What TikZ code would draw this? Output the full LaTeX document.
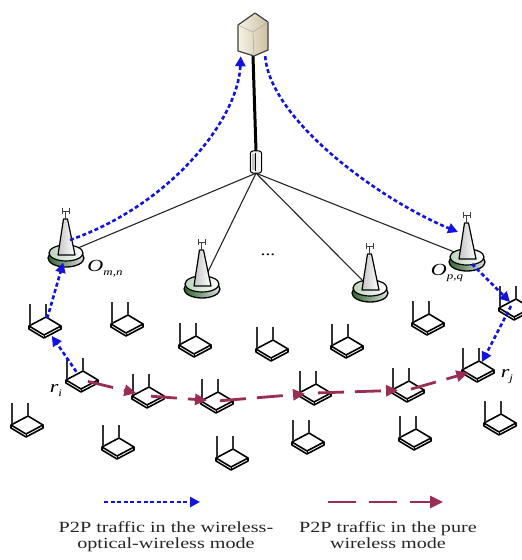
\documentclass[tikz,border=0pt]{standalone}
\usepackage{fontspec}
\setmainfont{Liberation Serif}
\usepackage{graphicx}
\usetikzlibrary{arrows.meta,calc}

\definecolor{owblue}{RGB}{18,18,225}
\definecolor{pwred}{RGB}{155,45,85}
\definecolor{bsgreen}{RGB}{60,130,60}
\definecolor{srvcream}{RGB}{246,242,228}
\definecolor{srvtan}{RGB}{205,192,160}

\newcommand{\wide}[1]{\scalebox{1.3}[1]{#1}}

\tikzset{
  dev/.style={inner sep=0pt, minimum width=30pt, minimum height=18pt},
  bsdev/.style={inner sep=0pt, minimum width=34pt, minimum height=18pt},
  fiber/.style={line width=1.1pt, black!85},
  trunk/.style={line width=3pt, black},
  owpath/.style={owblue, line width=2.6pt, dash pattern=on 4pt off 2.6pt,
    -{Triangle[length=10pt,width=10pt]}},
  pwpath/.style={pwred, line width=2.8pt, dash pattern=on 26pt off 11pt,
    -{Triangle[length=12pt,width=11pt]}},
  lbl/.style={inner sep=0pt, font=\fontsize{17}{17}\selectfont\itshape},
  legendtext/.style={inner sep=0pt, align=center, text=black!85,
    font=\fontsize{15.5}{16.5}\selectfont},
  router/.pic={
    \filldraw[fill=white, line width=1.6pt, line join=round]
      (-16,0) -- (-16,3) -- (-1,12) -- (16,3) -- (16,0) -- (1,-9) -- cycle;
    \draw[line width=1.6pt, line join=round] (-16,0) -- (-1,9) -- (16,0);
    \draw[line width=1pt] (-1,9) -- (-1,12);
    \draw[line width=1.1pt, black!80] (-15,-1) -- (-15,-22) (1,-9) -- (1,-22);
  },
  bstation/.pic={
    \shadedraw[line width=1.3pt, draw=black, left color=bsgreen!80!black, right color=gray!25]
      (0,5) ellipse [x radius=18pt, y radius=9pt];
    \shadedraw[line width=1.2pt, draw=black, left color=bsgreen!35, right color=white]
      (0,0) ellipse [x radius=17pt, y radius=8pt];
    \shadedraw[line width=1.2pt, draw=black, left color=gray!45, right color=white, line join=round]
      (-8,2) -- (-2.5,-34) -- (1.5,-34) -- (9,2) -- cycle;
    \draw[line width=1pt, gray!50!black] (-0.5,-34) -- (-0.5,-42);
    \draw[line width=0.8pt, gray!50!black] (-4,-45) -- (-4,-39) (3,-45) -- (3,-39) (-4,-42) -- (3,-42);
  },
}

\begin{document}
\begin{tikzpicture}[x=1pt, y=-1pt]
  \useasboundingbox (0,0) rectangle (522,560);
  \fill[white] (0,0) rectangle (522,560);

  % central office and splitter
  \node[inner sep=0pt, minimum width=30pt, minimum height=44pt] (srv) at (253,34) {};
  \node[inner sep=0pt, minimum width=11pt, minimum height=22pt] (spl) at (256,162) {};

  % base stations
  \node[bsdev] (bs1) at (66,253) {};
  \node[bsdev] (bs2) at (202,284) {};
  \node[bsdev] (bs3) at (370,288) {};
  \node[bsdev] (bs4) at (467,257) {};

  % wireless routers
  \node[dev] (ra)  at (45,326) {};
  \node[dev] (rb1) at (127,324) {};
  \node[dev] (rb2) at (195,345) {};
  \node[dev] (rb3) at (272,349) {};
  \node[dev] (rb4) at (347,346) {};
  \node[dev] (rb5) at (428,323) {};
  \node[dev] (rc)  at (515,308) {};
  \node[dev] (ri)  at (82,380) {};
  \node[dev] (rm1) at (148,396) {};
  \node[dev] (rm2) at (217,401) {};
  \node[dev] (rm3) at (315,393) {};
  \node[dev] (rm4) at (408,390) {};
  \node[dev] (rj)  at (478,370) {};
  \node[dev] (rl1) at (27,425) {};
  \node[dev] (rl2) at (118,447) {};
  \node[dev] (rl3) at (232,458) {};
  \node[dev] (rl4) at (308,442) {};
  \node[dev] (rl5) at (415,438) {};
  \node[dev] (rl6) at (500,423) {};

  % optical links
  \draw[trunk] (srv.south) -- (spl.north);
  \foreach \b in {bs1,bs2,bs3,bs4}
    \draw[fiber] (spl.south) -- (\b.center);

  % device icons
  \shadedraw[line width=1.2pt, draw=black!75, left color=srvcream, right color=srvtan, line join=round]
    (238,25) -- (255,13) -- (268,22) -- (268,50) -- (254,56) -- (238,51) -- cycle;
  \draw[line width=0.5pt, black!35] (238,25) -- (253,32) -- (268,22) (253,32) -- (254,56);
  \draw[line width=1pt, fill=gray!10, rounded corners=3pt]
    (spl.south west) rectangle (spl.north east);
  \fill[gray!45] ([shift={(1.5,-3)}]spl.south west) rectangle ([shift={(4.5,3)}]spl.north west);
  \draw[line width=0.6pt] ([shift={(5,-2)}]spl.south west) -- ([shift={(5,2)}]spl.north west);

  \foreach \b in {bs1,bs2,bs3,bs4}
    \pic at (\b) {bstation};
  \foreach \r in {ra,rb1,rb2,rb3,rb4,rb5,rc,ri,rm1,rm2,rm3,rm4,rj,rl1,rl2,rl3,rl4,rl5,rl6}
    \pic at (\r) {router};

  \node[inner sep=0pt, font=\fontsize{15}{15}\selectfont] (dots) at (268,255) {\wide{...}};

  % wireless-optical-wireless route
  \draw[owpath, shorten <=10pt, shorten >=12pt] (ri.center) -- (ra.center);
  \draw[owpath, shorten <=8pt, shorten >=10pt] (ra.center) -- (bs1.center);
  \draw[owpath] ([shift={(4,-13)}]bs1.center) .. controls (170,205) and (238,120) ..
    ([shift={(3,0)}]srv.south west);
  \draw[owpath] ([shift={(-3,0)}]srv.south east) .. controls (270,120) and (380,200) ..
    ([shift={(-9,-25)}]bs4.center);
  \draw[owpath] ([shift={(5,7)}]bs4.center) -- ([shift={(-5,-6)}]rc.center);
  \draw[owpath] ([shift={(-4,-2)}]rc.center) -- ([shift={(4,-8)}]rj.center);

  % pure wireless route
  \draw[pwpath, shorten <=6pt, shorten >=12pt] (ri.center) -- (rm1.center);
  \draw[pwpath, shorten <=3pt, shorten >=10pt] (rm1.center) -- (rm2.center);
  \draw[pwpath, shorten <=3pt, shorten >=10pt] (rm2.center) -- (rm3.center);
  \draw[pwpath, shorten <=3pt, shorten >=10pt] (rm3.center) -- (rm4.center);
  \draw[pwpath, shorten <=3pt, shorten >=10pt] (rm4.center) -- (rj.center);

  % labels
  \node[lbl] (lomn) at (105,269) {\wide{O\raisebox{-4pt}{\fontsize{10}{10}\selectfont m,n}}};
  \node[lbl] (lopq) at (447,273) {\wide{O\raisebox{-4pt}{\fontsize{10}{10}\selectfont p,q}}};
  \node[lbl] (lri) at (56,390) {\wide{r\raisebox{-4pt}{\fontsize{10}{10}\selectfont i}}};
  \node[lbl] (lrj) at (507,377) {\wide{r\raisebox{-4pt}{\fontsize{10}{10}\selectfont j}}};

  % legend
  \coordinate (lb1) at (104,502);
  \coordinate (lb2) at (200,502);
  \coordinate (lr1) at (328,502);
  \coordinate (lr2) at (443,502);
  \draw[owpath] (lb1) -- (lb2);
  \draw[pwpath, dash pattern=on 28pt off 13pt, -{Triangle[length=13pt,width=12pt]}] (lr1) -- (lr2);
  \node[legendtext, anchor=north] (t1) at (166,521)
    {\wide{P2P traffic in the wireless-}\\\wide{optical-wireless mode}};
  \node[legendtext, anchor=north] (t2) at (388,521)
    {\wide{P2P traffic in the pure}\\\wide{wireless mode}};
\end{tikzpicture}
\end{document}
